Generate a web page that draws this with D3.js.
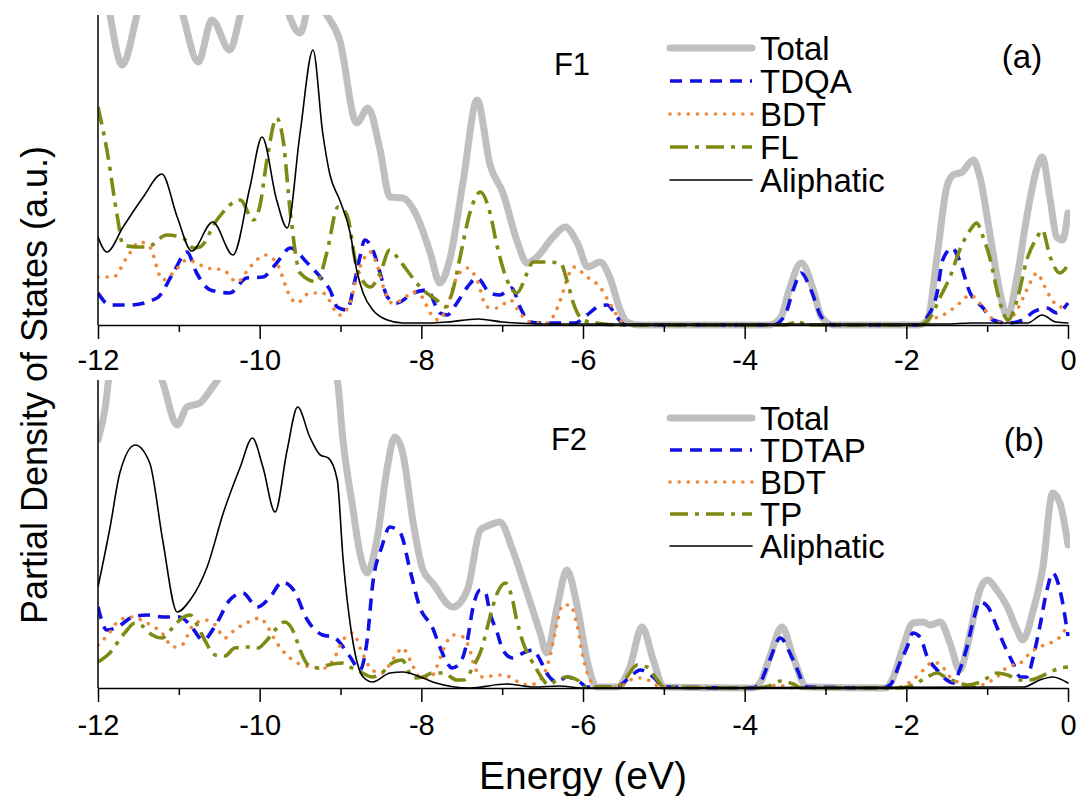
<!DOCTYPE html>
<html><head><meta charset="utf-8">
<script src="https://cdn.jsdelivr.net/npm/d3@7"></script>
<style>
body{margin:0;background:#fff}
svg{display:block}
text{font-family:"Liberation Sans",Arial,sans-serif;fill:#000}
</style>
</head><body>
<svg id="c" width="1081" height="796"></svg>
<script>
// ---------- data: [energy (eV), PDOS (a.u.)] ----------
const energyMajor = [-12, -10, -8, -6, -4, -2, 0];
const energyMinor = [-11, -9, -7, -5, -3, -1];
const aNames = ["Total", "TDQA", "BDT", "FL", "Aliphatic"];
const bNames = ["Total", "TDTAP", "BDT", "TP", "Aliphatic"];

const aTotal = [[-12.0,40],[-11.85,31],[-11.70,26],[-11.50,31.5],[-11.25,37],[-10.97,31.5],[-10.76,26.3],[-10.59,30.5],[-10.37,27.5],[-10.22,31.5],[-10.0,35],[-9.75,33],[-9.5,29.2],[-9.35,33],[-9.17,31],[-9.01,28.5],[-8.80,20.2],[-8.66,21.7],[-8.51,17.5],[-8.39,12.8],[-8.23,12.7],[-8.05,10.8],[-7.89,7.2],[-7.77,4.2],[-7.65,6.5],[-7.48,14.5],[-7.31,22.5],[-7.15,16],[-6.99,13.2],[-6.82,8.5],[-6.69,6.2],[-6.57,6.8],[-6.37,8.8],[-6.22,9.8],[-6.07,8.2],[-5.94,5.8],[-5.79,6.3],[-5.67,4.8],[-5.54,1.5],[-5.46,0.3],[-5.3,0],[-3.7,0],[-3.55,0.8],[-3.45,3.5],[-3.3,6.2],[-3.15,3.5],[-3.05,0.8],[-2.9,0],[-1.85,0],[-1.74,0.5],[-1.61,7.5],[-1.50,13.8],[-1.42,15],[-1.31,15.3],[-1.17,16.5],[-1.09,14.8],[-0.96,8.8],[-0.84,3.2],[-0.75,0.8],[-0.63,4.8],[-0.51,10.8],[-0.38,15.8],[-0.32,16.8],[-0.22,12.5],[-0.14,8.8],[-0.07,8.5],[0,11.2]];
const aTDQA = [[-12.0,3.2],[-11.85,2.0],[-11.6,2.0],[-11.27,2.7],[-11.07,5.2],[-10.90,7.3],[-10.78,5.2],[-10.61,3.5],[-10.37,3.2],[-10.16,4.7],[-9.96,4.8],[-9.79,6.2],[-9.62,7.7],[-9.41,6.2],[-9.22,4.5],[-9.13,3.5],[-9.04,1.8],[-8.92,1.5],[-8.82,4.5],[-8.76,6.8],[-8.70,8.5],[-8.60,7.5],[-8.51,5.2],[-8.42,2.8],[-8.30,2.2],[-8.10,3.2],[-7.93,3.5],[-7.77,1.2],[-7.68,1.0],[-7.56,2.2],[-7.43,3.8],[-7.31,4.7],[-7.15,3.2],[-7.03,3.0],[-6.88,3.7],[-6.78,1.8],[-6.66,0.3],[-6.5,0.2],[-6.1,0.2],[-5.95,1.0],[-5.82,1.8],[-5.70,2.0],[-5.58,0.8],[-5.48,0],[-3.65,0],[-3.5,1.0],[-3.4,3.5],[-3.3,5.2],[-3.18,3.5],[-3.05,0.8],[-2.9,0],[-1.85,0],[-1.74,0.8],[-1.62,3.2],[-1.55,6.5],[-1.43,7.7],[-1.36,6.8],[-1.21,3.2],[-1.05,1.7],[-0.93,0.5],[-0.75,0.2],[-0.56,0.5],[-0.43,1.3],[-0.26,1.7],[-0.14,1.2],[0,2.2]];
const aBDT = [[-12.0,4.8],[-11.81,4.8],[-11.64,6.8],[-11.48,8.3],[-11.36,7.8],[-11.20,4.5],[-11.07,5.2],[-10.90,6.5],[-10.78,6.2],[-10.65,5.7],[-10.45,5.5],[-10.28,4.3],[-10.12,5.8],[-9.93,7.0],[-9.79,6.2],[-9.62,2.8],[-9.54,2.2],[-9.38,3.2],[-9.22,3.2],[-9.01,1.0],[-8.88,2.2],[-8.80,4.8],[-8.72,6.5],[-8.63,7.3],[-8.54,5.8],[-8.47,3.8],[-8.36,2.2],[-8.24,2.5],[-8.10,3.3],[-7.99,2.8],[-7.89,1.2],[-7.79,0.5],[-7.68,1.8],[-7.56,4.8],[-7.43,5.7],[-7.31,4.5],[-7.19,1.8],[-7.06,1.7],[-6.90,2.5],[-6.78,1.2],[-6.66,0.3],[-6.45,0.2],[-6.28,2.5],[-6.20,4.5],[-6.12,5.8],[-5.95,4.8],[-5.79,3.8],[-5.67,2.2],[-5.54,0.5],[-5.42,0],[-3.5,0],[-3.35,0.3],[-3.2,0],[-1.85,0],[-1.71,0.5],[-1.50,1.2],[-1.34,2.2],[-1.21,3.0],[-1.09,2.2],[-0.96,0.8],[-0.80,0.2],[-0.63,1.5],[-0.51,3.5],[-0.38,5.2],[-0.31,4.2],[-0.22,2.8],[-0.10,1.8],[0,2.2]];
const aFL = [[-12.0,21.8],[-11.89,17.5],[-11.76,10.8],[-11.69,8.0],[-11.52,7.8],[-11.39,7.8],[-11.15,9.0],[-10.95,8.7],[-10.82,7.7],[-10.74,7.8],[-10.53,10.5],[-10.24,12.5],[-10.08,10.5],[-10.0,11.8],[-9.91,16.5],[-9.79,20.7],[-9.71,18.5],[-9.62,11.2],[-9.50,5.2],[-9.29,4.3],[-9.17,7.2],[-9.03,11.8],[-8.92,11.0],[-8.80,5.8],[-8.63,3.8],[-8.51,5.2],[-8.39,7.5],[-8.30,6.8],[-8.18,5.5],[-7.98,3.5],[-7.81,2.5],[-7.71,1.8],[-7.62,3.2],[-7.52,6.8],[-7.40,11.2],[-7.27,13.3],[-7.15,11.2],[-7.06,7.8],[-6.94,4.5],[-6.82,3.2],[-6.69,5.2],[-6.62,6.3],[-6.45,6.3],[-6.28,6.2],[-6.20,4.5],[-6.12,2.2],[-6.0,0.5],[-5.83,0.2],[-5.6,0],[-3.5,0],[-3.35,0.3],[-3.2,0],[-1.85,0],[-1.71,0.7],[-1.58,2.8],[-1.46,4.8],[-1.34,7.5],[-1.21,9.5],[-1.13,10.2],[-1.05,8.8],[-0.96,6.5],[-0.88,3.5],[-0.80,1.2],[-0.74,0.5],[-0.63,2.5],[-0.51,6.5],[-0.38,8.8],[-0.32,9.5],[-0.22,6.8],[-0.10,5.2],[0,6.0]];
const aAliphatic = [[-12.0,8.8],[-11.89,7.3],[-11.69,9.8],[-11.44,12.8],[-11.21,15.1],[-11.02,10.8],[-10.84,7.4],[-10.58,10.3],[-10.33,7.0],[-10.12,13.8],[-9.97,18.8],[-9.79,12.5],[-9.66,9.7],[-9.50,19.2],[-9.34,27.5],[-9.22,19.2],[-9.13,15.0],[-9.01,12.5],[-8.88,9.2],[-8.80,5.5],[-8.72,3.2],[-8.60,1.5],[-8.42,0.5],[-8.23,0.2],[-7.9,0.2],[-7.68,0.3],[-7.3,0.6],[-7.0,0.3],[-6.5,0.1],[-1.5,0.1],[-1.2,0.2],[-0.5,0.2],[-0.32,1.0],[-0.15,0.3],[0,0.2]];

const bTotal = [[-12.0,24.8],[-11.91,28.1],[-11.85,32],[-11.6,38],[-11.35,33],[-11.21,30.8],[-11.02,26.3],[-10.90,28.1],[-10.74,28.5],[-10.61,29.8],[-10.52,30.8],[-10.3,34],[-9.8,36],[-9.3,36],[-9.04,30.8],[-8.97,24.8],[-8.85,18.1],[-8.76,13.5],[-8.67,11.5],[-8.55,14.8],[-8.42,22.1],[-8.33,25.1],[-8.23,23.5],[-8.10,16.5],[-7.98,11.8],[-7.86,10.5],[-7.61,8.1],[-7.43,9.8],[-7.27,15.8],[-7.15,16.3],[-7.03,16.6],[-6.87,13.8],[-6.69,9.5],[-6.53,5.5],[-6.45,3.5],[-6.32,8.1],[-6.20,11.8],[-6.07,8.1],[-5.95,2.8],[-5.83,0.1],[-5.58,0.1],[-5.42,2.1],[-5.27,6.1],[-5.13,2.8],[-5.0,0.1],[-3.9,0],[-3.81,0.5],[-3.69,3.1],[-3.54,6.1],[-3.40,3.1],[-3.23,0.1],[-2.25,0],[-2.16,1.1],[-2.04,4.1],[-1.92,6.5],[-1.79,6.6],[-1.71,6.3],[-1.58,6.6],[-1.46,4.5],[-1.34,1.8],[-1.21,5.5],[-1.09,9.8],[-1.0,10.8],[-0.88,9.8],[-0.75,8.1],[-0.63,5.8],[-0.56,4.8],[-0.43,7.8],[-0.31,12.1],[-0.19,19.5],[-0.10,18.5],[0,14.3]];
const bTDTAP = [[-12.0,8.1],[-11.89,5.8],[-11.76,6.1],[-11.57,7.1],[-11.39,7.3],[-11.20,7.1],[-10.99,7.1],[-10.86,6.3],[-10.70,4.8],[-10.53,6.5],[-10.37,8.8],[-10.21,9.5],[-10.03,8.1],[-9.87,9.1],[-9.72,10.6],[-9.58,9.8],[-9.41,6.8],[-9.22,5.3],[-9.09,5.1],[-8.88,3.1],[-8.76,1.8],[-8.67,4.8],[-8.60,10.5],[-8.49,14.1],[-8.39,16.1],[-8.26,15.5],[-8.14,11.8],[-8.02,8.1],[-7.86,6.0],[-7.77,4.1],[-7.68,2.5],[-7.62,2.0],[-7.52,2.5],[-7.43,4.8],[-7.36,8.1],[-7.27,9.8],[-7.21,9.6],[-7.15,7.5],[-7.06,5.5],[-6.99,3.8],[-6.87,3.0],[-6.74,3.5],[-6.62,3.8],[-6.53,2.8],[-6.45,1.5],[-6.32,0.6],[-6.20,1.1],[-6.04,0.6],[-5.95,0.1],[-5.58,0.1],[-5.42,1.1],[-5.29,1.8],[-5.13,1.1],[-5.0,0.1],[-3.9,0],[-3.81,0.5],[-3.69,2.8],[-3.56,5.0],[-3.40,2.8],[-3.23,0.1],[-2.3,0],[-2.20,0.3],[-2.08,2.5],[-1.99,4.1],[-1.92,5.5],[-1.83,5.1],[-1.74,3.1],[-1.62,1.8],[-1.50,0.8],[-1.42,0.5],[-1.34,1.8],[-1.25,4.1],[-1.17,6.8],[-1.09,8.6],[-0.99,8.1],[-0.88,6.1],[-0.80,4.5],[-0.68,2.5],[-0.59,1.1],[-0.51,1.1],[-0.43,3.1],[-0.35,6.1],[-0.26,9.8],[-0.19,11.5],[-0.10,9.8],[0,5.2]];
const bBDT = [[-12.0,4.3],[-11.88,5.3],[-11.73,6.8],[-11.58,7.1],[-11.42,6.6],[-11.21,5.5],[-11.07,4.1],[-10.96,4.3],[-10.84,6.1],[-10.68,6.8],[-10.55,6.3],[-10.43,5.0],[-10.31,5.8],[-10.14,6.6],[-10.0,7.0],[-9.90,6.1],[-9.81,4.8],[-9.69,3.5],[-9.53,2.5],[-9.35,2.1],[-9.19,2.0],[-9.07,3.1],[-8.97,4.8],[-8.85,5.5],[-8.73,3.5],[-8.61,1.8],[-8.49,1.5],[-8.33,3.1],[-8.23,4.0],[-8.14,2.8],[-8.02,1.1],[-7.89,1.0],[-7.81,2.1],[-7.73,3.8],[-7.61,5.3],[-7.48,5.1],[-7.40,3.8],[-7.34,2.1],[-7.24,1.1],[-7.03,1.3],[-6.90,1.1],[-6.78,0.5],[-6.66,0.3],[-6.53,0.8],[-6.41,3.1],[-6.32,6.5],[-6.25,8.3],[-6.16,8.3],[-6.07,6.1],[-6.0,3.1],[-5.91,0.8],[-5.83,0.1],[-5.55,0.1],[-5.42,0.8],[-5.29,1.0],[-5.13,0.5],[-5.05,0.1],[-3.8,0],[-3.6,0.3],[-3.4,0],[-2.15,0],[-2.08,0.1],[-1.92,0.8],[-1.79,1.8],[-1.67,2.6],[-1.55,2.1],[-1.46,1.1],[-1.34,0.5],[-1.17,0.1],[-1.0,0.5],[-0.88,1.1],[-0.75,2.1],[-0.59,2.5],[-0.47,3.5],[-0.35,4.1],[-0.22,4.5],[-0.10,5.1],[0,6.3]];
const bTP = [[-12.0,2.6],[-11.88,3.3],[-11.67,5.5],[-11.54,6.5],[-11.45,6.2],[-11.33,5.3],[-11.21,5.0],[-11.08,6.0],[-10.96,7.0],[-10.86,7.3],[-10.76,6.1],[-10.68,4.8],[-10.55,3.3],[-10.43,3.2],[-10.31,4.0],[-10.14,4.1],[-10.02,4.0],[-9.93,4.6],[-9.81,5.8],[-9.69,6.6],[-9.58,5.6],[-9.50,3.8],[-9.40,2.3],[-9.28,2.0],[-9.15,2.3],[-8.98,2.5],[-8.86,2.0],[-8.73,1.5],[-8.61,1.1],[-8.49,1.5],[-8.36,2.5],[-8.24,2.8],[-8.10,1.0],[-7.98,1.1],[-7.86,1.5],[-7.73,1.5],[-7.56,0.8],[-7.48,0.8],[-7.36,2.1],[-7.25,4.0],[-7.17,6.5],[-7.06,9.5],[-6.96,10.5],[-6.88,9.1],[-6.82,6.8],[-6.74,4.5],[-6.66,3.1],[-6.57,1.8],[-6.49,0.8],[-6.43,0.3],[-6.32,0.8],[-6.20,1.1],[-6.07,0.8],[-6.0,0.1],[-5.58,0.1],[-5.46,1.1],[-5.33,2.3],[-5.21,2.1],[-5.08,0.8],[-5.0,0.1],[-3.85,0],[-3.7,0.2],[-3.55,0.7],[-3.4,0.4],[-3.3,0],[-2.1,0],[-1.99,0.1],[-1.87,0.5],[-1.74,1.1],[-1.62,1.5],[-1.50,1.0],[-1.37,0.6],[-1.25,0.3],[-1.12,0.5],[-1.0,1.0],[-0.88,1.5],[-0.75,1.3],[-0.59,0.8],[-0.47,0.8],[-0.35,1.1],[-0.22,1.6],[-0.10,2.0],[0,2.1]];
const bAliphatic = [[-12.0,10.1],[-11.85,16.1],[-11.73,21.5],[-11.54,24.3],[-11.36,22.5],[-11.20,14.8],[-11.02,7.6],[-10.86,8.8],[-10.65,12.1],[-10.45,17.5],[-10.24,22.1],[-10.09,25.0],[-9.96,22.1],[-9.81,17.6],[-9.66,23.8],[-9.53,28.1],[-9.38,25.1],[-9.25,23.3],[-9.15,23.0],[-9.04,20.8],[-8.97,13.1],[-8.85,4.8],[-8.72,1.1],[-8.60,0.6],[-8.39,1.5],[-8.23,1.6],[-7.98,1.0],[-7.82,0.5],[-7.4,0],[-6.95,0.4],[-6.6,0.1],[-6.3,0.2],[-6.0,0],[-0.55,0.1],[-0.35,0.8],[-0.19,1.1],[0,0.5]];

// ---------- styling / layout ----------
const styles = [
  {stroke:"#bfbfbf", width:7,   dash:null,        cap:"round"},
  {stroke:"#1010e6", width:3.6, dash:"12,8",      cap:"butt"},
  {stroke:"#f0883a", width:3.6, dash:"0.1,9",     cap:"round"},
  {stroke:"#7f8a12", width:3.6, dash:"18,7,4,7",  cap:"butt"},
  {stroke:"#000000", width:1.6, dash:null,        cap:"round"}
];

const panels = [
  {top:15,  bottom:325, series:[aTotal,aTDQA,aBDT,aFL,aAliphatic], names:aNames,
   tag:"F1", tagX:572, tagY:75, letter:"(a)", letterX:1022, letterY:68,
   legY:60, legStep:33, labelBase:370},
  {top:380, bottom:688, series:[bTotal,bTDTAP,bBDT,bTP,bAliphatic], names:bNames,
   tag:"F2", tagX:569, tagY:450, letter:"(b)", letterX:1024, letterY:451,
   legY:430, legStep:32, labelBase:735}
];

const svg = d3.select("#c");
const x = d3.scaleLinear().domain([-12, 0]).range([98, 1068]);

panels.forEach((p, i) => {
  const y = d3.scaleLinear().domain([0, 31]).range([p.bottom, p.bottom - 310]);
  const g = svg.append("g");
  const clipId = "clip" + i;
  svg.append("clipPath").attr("id", clipId).append("rect")
    .attr("x", 98).attr("y", p.top).attr("width", 972).attr("height", p.bottom - p.top + 4);

  const line = d3.line().x(d => x(d[0])).y(d => y(d[1])).curve(d3.curveMonotoneX);
  const lines = g.append("g").attr("clip-path", `url(#${clipId})`);
  p.series.forEach((s, k) => {
    const st = styles[k];
    lines.append("path").datum(s)
      .attr("d", line).attr("fill", "none")
      .attr("stroke", st.stroke).attr("stroke-width", st.width)
      .attr("stroke-linejoin", "round").attr("stroke-linecap", st.cap)
      .attr("stroke-dasharray", st.dash);
  });

  // left axis line
  g.append("line").attr("x1", 98).attr("x2", 98).attr("y1", p.top).attr("y2", p.bottom)
    .attr("stroke", "#000").attr("stroke-width", 1.5);

  // bottom axis: minor ticks
  g.append("g").attr("transform", `translate(0,${p.bottom})`)
    .call(d3.axisBottom(x).tickValues(energyMinor).tickSize(7).tickSizeOuter(0).tickFormat(""))
    .call(a => a.select(".domain").remove())
    .call(a => a.selectAll("line").attr("stroke", "#000").attr("stroke-width", 1.5));
  // major ticks + labels
  const fs = 29;
  g.append("g").attr("transform", `translate(0,${p.bottom})`)
    .call(d3.axisBottom(x).tickValues(energyMajor).tickSize(14).tickSizeOuter(0)
      .tickPadding(p.labelBase - p.bottom - 14 - 0.71 * fs).tickFormat(d => String(d)))
    .call(a => a.select(".domain").attr("stroke", "#000").attr("stroke-width", 1.5))
    .call(a => a.selectAll("line").attr("stroke", "#000").attr("stroke-width", 1.5))
    .call(a => a.selectAll("text").attr("font-size", fs)
      .attr("font-family", '"Liberation Sans",Arial,sans-serif').attr("fill", "#000"));

  // legend
  const leg = g.append("g");
  p.names.forEach((n, k) => {
    const st = styles[k];
    const by = p.legY + k * p.legStep;
    leg.append("line").attr("x1", 670).attr("x2", 752).attr("y1", by - 12).attr("y2", by - 12)
      .attr("stroke", st.stroke).attr("stroke-width", st.width)
      .attr("stroke-linecap", st.cap).attr("stroke-dasharray", st.dash);
    leg.append("text").attr("x", 760).attr("y", by).attr("font-size", 33).text(n);
  });

  g.append("text").attr("x", p.tagX).attr("y", p.tagY).attr("text-anchor", "middle")
    .attr("font-size", 31).text(p.tag);
  g.append("text").attr("x", p.letterX).attr("y", p.letterY).attr("text-anchor", "middle")
    .attr("font-size", 33).text(p.letter);
});

svg.append("text").attr("x", 583).attr("y", 789).attr("text-anchor", "middle")
  .attr("font-size", 39).text("Energy (eV)");
svg.append("text").attr("transform", "translate(47,385) rotate(-90)").attr("text-anchor", "middle")
  .attr("font-size", 36).text("Partial Density of States (a.u.)");
</script>
</body></html>
